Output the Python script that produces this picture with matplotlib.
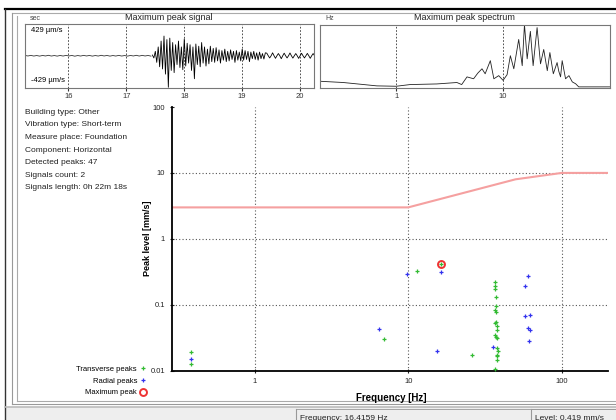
import numpy as np
import matplotlib
matplotlib.use("Agg")
from matplotlib import pyplot as plt
from matplotlib.patches import Rectangle

plt.rcParams['font.family'] = ['Liberation Sans', 'DejaVu Sans']

# --- data -------------------------------------------------------------
info_lines = [
    "Building type: Other",
    "Vibration type: Short-term",
    "Measure place: Foundation",
    "Component: Horizontal",
    "Detected peaks: 47",
    "Signals count: 2",
    "Signals length: 0h 22m 18s",
]

# transverse peaks (Hz, mm/s)
trans_freq = [0.388, 0.388, 6.95, 11.5, 26.0, 16.4159,
              36.5, 36.5, 36.9, 37.2, 37.2, 36.9, 37.4, 37.4, 37.0, 37.8,
              37.8, 37.0, 37.4, 37.8, 38.0, 38.4, 38.0, 37.6, 37.6, 37.0]
trans_level = [0.019, 0.0126, 0.0298, 0.328, 0.0174, 0.419,
               0.223, 0.19, 0.175, 0.129, 0.097, 0.082, 0.077, 0.054, 0.052, 0.048,
               0.041, 0.035, 0.033, 0.031, 0.0218, 0.0196, 0.0175, 0.0165, 0.0143, 0.0106]

# radial peaks (Hz, mm/s)
rad_freq = [0.388, 6.5, 9.9, 16.3, 15.5, 35.8, 60.7, 57.7, 57.7, 62.5, 60.0, 62.0, 61.3]
rad_level = [0.015, 0.0422, 0.295, 0.317, 0.0198, 0.0229, 0.276, 0.19, 0.068, 0.0705,
             0.0443, 0.0418, 0.0285]

max_freq = 16.4159
max_level = 0.419

# limit curve (DIN 4150-3, foundation, other buildings)
limit_freq = [0.29, 10, 50, 100, 200]
limit_level = [3, 3, 8, 10, 10]

# maximum peak signal (um/s)
pre_signal = [4, -3, 5, -4, 3, -5, 4, -3, 6, -4, 3, -5, 4, -4, 5, -3, 4, -6, 3, -4, 5, -3,
              4, -5, 3, -4, 6, -3, 4, -5, 3, -4, 5, -4, 3, -5, 4, -3, 6, -4, 5, -3, 4, -5]
burst_signal = [10, -30, 60, -90, 120, -150, 200, -180, 268, -250, 220, -429, 240, -200,
                180, -230, 150, -120, 200, -160, 120, -190, 230, -140, 170, -100, 150, -200,
                120, -313, 160, -120, 130, -150, 180, -100, 120, -140, 90, -110, 130, -80,
                100, -90, 110, -70, 80, -100, 70, -60, 90, -80, 60, -70, 80, -50, 60, -90,
                70, -60, 50, -70, 90, -60, 70, -50, 60, -80, 50, -40, 60, -50, 40, -60, 50,
                -40, 30, -45, 40,
                35, 0, -30, 0, 40, 0, -35, 0, 30, 0, -40, 0, 35, 0, -30, 0, 38, 0, -32, 0,
                30, 0, -36, 0, 34, 0, -30, 0, 32, 0, -35, 0, 30, 0]
sig_ticks = [16, 17, 18, 19, 20]

# maximum peak spectrum (Hz, relative amplitude)
spec_freq = [0.194, 0.32, 0.66, 1.0, 1.35, 2.4, 3.7, 4.1, 4.6, 5.3, 5.8, 6.35, 6.8, 7.6,
             8.2, 9.1, 10.0, 10.9, 11.7, 12.6, 14.0, 15.1, 15.85, 16.8, 18.0, 19.1, 20.8,
             22.4, 24.0, 25.9, 27.4, 29.5, 32.0, 33.2, 34.5, 35.7, 38.4, 41.3, 44.4, 47.7,
             51.0, 100.0]
spec_amp = [0.09, 0.07, 0.016, 0.01, 0.037, 0.047, 0.07, 0.037, 0.16, 0.13, 0.22, 0.29,
            0.21, 0.42, 0.13, 0.18, 0.105, 0.195, 0.5, 0.29, 0.76, 0.34, 1.0, 0.45, 0.89,
            0.34, 0.95, 0.37, 0.6, 0.26, 0.55, 0.21, 0.39, 0.25, 0.16, 0.42, 0.13, 0.18,
            0.08, 0.05, 0.0, 0.0]

W, H = 616, 420


def box(x0, y0, x1, y1):
    # pixel box -> figure fraction rect
    return [x0 / W, 1 - y1 / H, (x1 - x0) / W, (y1 - y0) / H]


fig = plt.figure(figsize=(W / 100, H / 100), dpi=100)

# --- window frame ---------------------------------------------------
bg = fig.add_axes([0, 0, 1, 1], zorder=-5)
bg.set_xlim(0, W)
bg.set_ylim(H, 0)
bg.axis('off')
bg.add_patch(Rectangle((5, 407), W - 5, 13, fc='#eeeeee', ec='none'))
bg.plot([5, W], [9, 9], color='black', lw=1.6)
bg.plot([12, W], [12.5, 12.5], color='#aaaaaa', lw=0.8)
bg.plot([5, 5], [9, H], color='#333333', lw=1.0)
bg.plot([12, 12], [12.5, 404], color='#999999', lw=0.8)
bg.plot([17, 17], [16, 401], color='#aaaaaa', lw=0.8)
bg.plot([17, W], [401, 401], color='#aaaaaa', lw=0.8)
bg.plot([12, W], [404, 404], color='#999999', lw=0.8)
bg.plot([5, W], [406.5, 406.5], color='#bbbbbb', lw=1.2)
for xs in (296, 531):
    bg.plot([xs, xs], [409, H], color='#999999', lw=0.8)
    bg.plot([xs, W], [409, 409], color='#999999', lw=0.6)
bg.text(300, 414.5, "Frequency: 16.4159 Hz", fontsize=6, va='top', color='#222222')
bg.text(535, 414.5, "Level: 0.419 mm/s", fontsize=6, va='top', color='#222222')

# info block
for i, line in enumerate(info_lines):
    bg.text(25, 112.3 + i * 12.57, line, fontsize=6, va='center', color='#222222')

# titles of small panels
bg.text(30, 18, "sec", fontsize=5, va='center', color='#444444')
bg.text(169, 18, "Maximum peak signal", fontsize=6.5, va='center', ha='center', color='#222222')
bg.text(325, 18, "Hz", fontsize=5, va='center', color='#444444')
bg.text(464, 18, "Maximum peak spectrum", fontsize=6.5, va='center', ha='center', color='#222222')

# --- maximum peak signal -------------------------------------------
ax_s = fig.add_axes(box(25, 24, 314, 87.5))
t_pre = np.linspace(15.25, 17.425, len(pre_signal))
t_burst = np.linspace(17.45, 17.45 + 0.025 * (len(burst_signal) - 1), len(burst_signal))
ax_s.plot(t_pre, pre_signal, color='#333333', lw=0.6)
ax_s.plot(t_burst, burst_signal, color='black', lw=0.6)
ax_s.set_xlim(15.25, 20.24)
ax_s.set_ylim(-432, 432)
ax_s.set_xticks(sig_ticks)
ax_s.set_xticklabels([str(v) for v in sig_ticks])
ax_s.set_yticks([])
ax_s.tick_params(axis='x', labelsize=5.5, length=2, pad=2, colors='#333333')
ax_s.grid(axis='x', color='#333333', lw=0.6, linestyle=(0, (2, 2)))
for sp in ax_s.spines.values():
    sp.set_color('#777777')
    sp.set_linewidth(0.8)
ax_s.text(0.02, 0.95, "429 µm/s", transform=ax_s.transAxes, fontsize=5.5, va='top')
ax_s.text(0.02, 0.05, "-429 µm/s", transform=ax_s.transAxes, fontsize=5.5, va='bottom')

# --- maximum peak spectrum -----------------------------------------
ax_f = fig.add_axes(box(320, 24.5, 610, 87.5))
ax_f.plot(spec_freq, spec_amp, color='#222222', lw=0.6)
ax_f.set_xscale('log')
ax_f.set_xlim(0.194, 100)
ax_f.set_ylim(-0.01, 1.0)
ax_f.set_xticks([1, 10])
ax_f.set_xticklabels(['1', '10'])
ax_f.xaxis.set_minor_locator(matplotlib.ticker.NullLocator())
ax_f.set_yticks([])
ax_f.tick_params(axis='x', labelsize=5.5, length=2, pad=2, colors='#333333')
ax_f.grid(axis='x', color='#333333', lw=0.6, linestyle=(0, (2, 2)))
for sp in ax_f.spines.values():
    sp.set_color('#777777')
    sp.set_linewidth(0.8)

# --- main peak chart -----------------------------------------------
ax = fig.add_axes(box(172, 107, 608, 370.7))
ax.set_xscale('log')
ax.set_yscale('log')
ax.plot(limit_freq, limit_level, color='#f5a0a0', lw=1.5, zorder=2)
ax.plot(trans_freq, trans_level, linestyle='none', marker='+', ms=3, mew=0.9,
        color='#33bb33', label='Transverse peaks', zorder=3)
ax.plot(rad_freq, rad_level, linestyle='none', marker='+', ms=3, mew=0.9,
        color='#3333ee', label='Radial peaks', zorder=3)
ax.plot([max_freq], [max_level], linestyle='none', marker='o', ms=5, mew=1.4,
        mfc='none', mec='#ee3333', label='Maximum peak', zorder=4)
ax.set_xlim(0.29, 200)
ax.set_ylim(0.01, 100)
ax.set_xticks([1, 10, 100])
ax.set_xticklabels(['1', '10', '100'])
ax.set_yticks([0.01, 0.1, 1, 10, 100])
ax.set_yticklabels(['0.01', '0.1', '1', '10', '100'])
ax.xaxis.set_minor_locator(matplotlib.ticker.NullLocator())
ax.yaxis.set_minor_locator(matplotlib.ticker.NullLocator())
ax.tick_params(labelsize=5.5, length=3, width=0.8, direction='inout', colors='#222222')
ax.grid(True, color='#555555', lw=0.8, linestyle=(0, (1, 2)))
ax.get_ygridlines()[-1].set_visible(False)
ax.get_ygridlines()[0].set_visible(False)
for s in ('top', 'right'):
    ax.spines[s].set_visible(False)
for s in ('left', 'bottom'):
    ax.spines[s].set_linewidth(1.3)
ax.set_ylabel("Peak level [mm/s]", fontsize=6.5, fontweight='bold')
ax.yaxis.set_label_coords(-0.045, 0.503)
ax.set_xlabel("Frequency [Hz]", fontsize=7, fontweight='bold')
ax.xaxis.set_label_coords(0.502, -0.083)

handles, labels = ax.get_legend_handles_labels()
fig.legend(handles, labels, loc='upper right', bbox_to_anchor=(150 / W, 1 - 362 / H),
           markerfirst=False, frameon=False, fontsize=5.5, labelspacing=0.55,
           handlelength=0.8, handletextpad=0.4, borderpad=0)

fig.savefig("out.png", dpi=100)
